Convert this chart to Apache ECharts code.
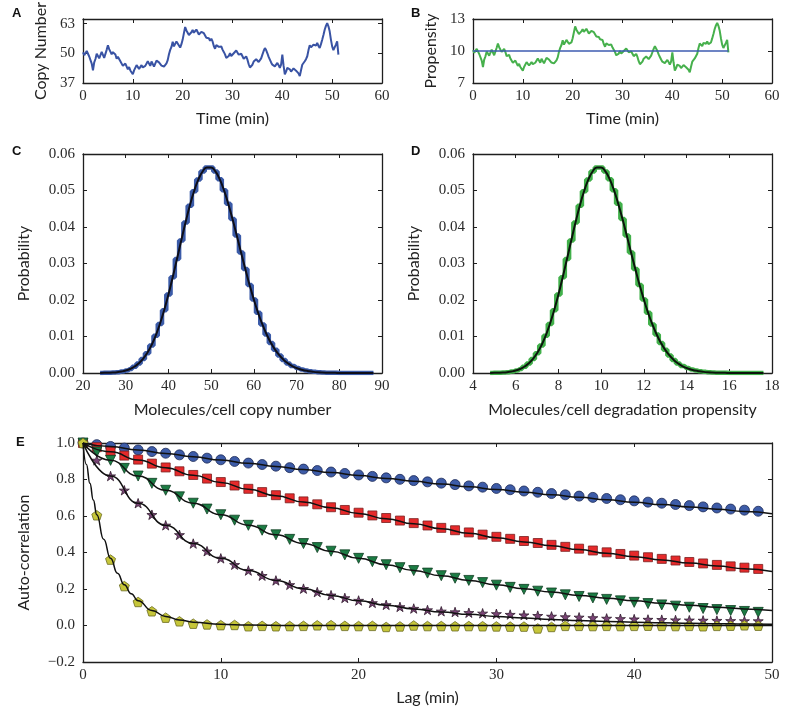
<!DOCTYPE html>
<html><head><meta charset="utf-8">
<script src="https://cdn.jsdelivr.net/npm/echarts@6/dist/echarts.min.js"></script>
<style>html,body{margin:0;padding:0;background:#fff}#c{width:791px;height:715px}</style>
</head><body><div id="c"></div>
<script>
// ---------------- DATA ----------------
// Panel A/B: single-cell trace sampled every 0.25 min
const sampleStepMin = 0.25;
const copyNumber = [
50.4,49.2,49.8,51.0,50.2,48.6,48.0,45.5,42.5,46.0,47.5,49.8,49.5,47.8,48.5,50.6,50.0,48.0,48.5,51.5,
53.5,51.8,51.5,49.6,50.5,51.0,49.5,47.6,48.5,48.2,46.5,46.8,44.5,44.0,45.5,45.0,43.0,44.0,42.5,42.0,
40.8,42.5,43.0,44.8,45.0,43.2,43.0,44.8,43.8,43.0,44.5,45.2,46.5,45.8,44.5,46.4,46.0,44.2,45.0,46.8,
47.2,46.0,45.5,44.6,43.8,44.2,45.0,45.6,47.0,49.6,51.5,52.8,55.0,53.0,53.5,55.2,54.5,53.4,52.5,54.0,
56.0,58.8,61.5,60.0,59.5,58.0,57.5,59.2,60.2,59.0,58.8,60.4,59.6,58.2,58.0,59.4,59.6,58.8,58.2,56.8,
57.4,56.6,55.5,56.4,55.2,53.2,52.0,53.6,53.8,52.8,52.5,53.0,51.6,50.6,49.5,48.0,47.2,48.8,50.0,48.8,
48.7,50.0,49.5,51.2,50.9,49.4,48.7,49.8,48.7,47.6,48.0,48.6,47.2,45.2,43.8,44.4,45.0,46.4,46.0,47.4,
47.2,46.2,46.5,47.8,49.4,51.0,52.3,51.4,50.0,48.4,47.2,46.0,45.0,45.4,44.3,44.6,45.8,44.8,43.6,45.0,
49.4,44.6,40.8,42.0,43.6,43.8,43.0,42.0,42.2,43.4,43.6,42.4,42.2,41.2,40.0,42.6,45.0,45.4,46.5,47.4,
48.7,51.4,53.5,52.6,52.3,53.8,53.0,53.4,54.5,53.2,52.3,54.0,55.9,58.0,60.3,62.0,63.2,61.8,59.6,56.0,
53.0,51.4,51.6,53.8,55.2,49.4];
const propensity = [
10.08,9.84,9.96,10.20,10.04,9.72,9.60,9.10,8.50,9.20,9.50,9.96,9.90,9.56,9.70,10.12,10.00,9.60,9.70,10.30,
10.70,10.36,10.30,9.92,10.10,10.20,9.90,9.52,9.70,9.64,9.30,9.36,8.90,8.80,9.10,9.00,8.60,8.80,8.50,8.40,
8.16,8.50,8.60,8.96,9.00,8.64,8.60,8.96,8.76,8.60,8.90,9.04,9.30,9.16,8.90,9.28,9.20,8.84,9.00,9.36,
9.44,9.20,9.10,8.92,8.76,8.84,9.00,9.12,9.40,9.92,10.30,10.56,11.00,10.60,10.70,11.04,10.90,10.68,10.50,10.80,
11.20,11.76,12.30,12.00,11.90,11.60,11.50,11.84,12.04,11.80,11.76,12.08,11.92,11.64,11.60,11.88,11.92,11.76,11.64,11.36,
11.48,11.32,11.10,11.28,11.04,10.64,10.40,10.72,10.76,10.56,10.50,10.60,10.32,10.12,9.90,9.60,9.44,9.76,10.00,9.76,
9.74,10.00,9.90,10.24,10.18,9.88,9.74,9.96,9.74,9.52,9.60,9.72,9.44,9.04,8.76,8.88,9.00,9.28,9.20,9.48,
9.44,9.24,9.30,9.56,9.88,10.20,10.46,10.28,10.00,9.68,9.44,9.20,9.00,9.08,8.86,8.92,9.16,8.96,8.72,9.00,
9.88,8.92,8.16,8.40,8.72,8.76,8.60,8.40,8.44,8.68,8.72,8.48,8.44,8.24,8.00,8.52,9.00,9.08,9.30,9.48,
9.74,10.28,10.70,10.52,10.46,10.76,10.60,10.68,10.90,10.64,10.46,10.80,11.18,11.60,12.06,12.40,12.64,12.36,11.92,11.20,
10.60,10.28,10.32,10.76,11.04,9.88];
const meanPropensity = 10;
const copyTicks = [37, 50, 63];
const propTicks = [7, 10, 13];

// Panels C/D: probability per copy number 24..88 (degradation propensity = bins 4.8..17.6)
const copyBinStart = 24, copyBinStep = 1;
const propBinStart = 4.8, propBinStep = 0.2;
const probability = [
0.0000185,0.0000371,0.0000713,0.000132,0.000236,0.000406,0.000677,0.001092,0.001707,0.002586,
0.003803,0.005433,0.007545,0.010196,0.013416,0.017200,0.021500,0.026219,0.031213,0.036294,
0.041243,0.045826,0.049811,0.052991,0.055199,0.056325,0.056325,0.055221,0.053097,0.050092,
0.046381,0.042165,0.037647,0.033024,0.028469,0.024126,0.020105,0.016480,0.013290,0.010548,
0.008240,0.006339,0.004802,0.003584,0.002635,0.001910,0.001364,0.000961,0.000667,0.000457,
0.000309,0.000206,0.000135,0.000088,0.000056,0.000036,0.000022,0.000014,0.000008,0.000005,
0.000003,0.000002,0.000001,0.000001,0.0000004];

// Panel E: auto-correlation at lags 0..49 (markers) and fitted curves
const markerLags = [0,1,2,3,4,5,6,7,8,9,10,11,12,13,14,15,16,17,18,19,20,21,22,23,24,25,26,27,28,29,30,31,32,33,34,35,36,37,38,39,40,41,42,43,44,45,46,47,48,49];
const acBlue = [1.000,.991,.981,.972,.962,.953,.944,.935,.926,.917,.908,.899,.890,.882,.873,.865,.857,.849,.841,.833,.825,.817,.809,.801,.794,.787,.780,.772,.765,.758,.751,.744,.737,.730,.723,.716,.709,.702,.696,.689,.683,.676,.670,.663,.657,.650,.644,.638,.632,.626];
const acRed = [1.000,.977,.953,.931,.909,.887,.866,.845,.825,.805,.786,.767,.749,.731,.714,.697,.680,.664,.648,.633,.618,.603,.589,.575,.561,.548,.535,.522,.510,.498,.486,.475,.463,.452,.442,.431,.421,.411,.401,.392,.383,.374,.365,.356,.348,.340,.332,.324,.317,.310];
const acGreen = [1,.951,.905,.861,.819,.779,.741,.705,.670,.638,.607,.577,.549,.522,.497,.472,.449,.427,.407,.387,.368,.350,.333,.317,.301,.287,.273,.259,.247,.235,.221,.209,.198,.188,.178,.168,.159,.151,.143,.135,.127,.120,.113,.106,.100,.093,.087,.082,.077,.072];
const acPurple = [1,.905,.819,.741,.670,.607,.549,.497,.449,.407,.368,.333,.301,.273,.247,.223,.202,.183,.166,.151,.137,.124,.113,.102,.093,.085,.078,.074,.070,.067,.064,.060,.057,.054,.050,.047,.045,.042,.039,.037,.035,.033,.032,.030,.029,.028,.027,.026,.025,.025];
const acYellow = [1,.604,.361,.216,.129,.078,.043,.023,.010,.006,.002,.003,-.004,-.002,-.004,-.003,-.002,.001,.002,-.002,-.003,-.002,-.008,-.005,.000,-.003,-.003,-.004,-.003,-.004,-.005,-.006,-.006,-.016,-.008,-.002,-.002,-.003,-.002,-.003,-.002,-.001,-.002,-.003,-.002,-.004,-.002,-.001,.001,-.001];
const fitLags = [0,2,4,6,8,10,12,14,16,18,20,22,24,26,28,30,32,34,36,38,40,42,44,46,48,50];
const fitBlue = [1,.9806,.9616,.9429,.9246,.9066,.8890,.8718,.8548,.8382,.8220,.8060,.7904,.7750,.7600,.7452,.7308,.7165,.7026,.6890,.6756,.6625,.6496,.6370,.6247,.6125];
const fitRed = [1,.952,.907,.864,.823,.784,.746,.711,.677,.645,.614,.585,.557,.530,.505,.481,.458,.437,.416,.396,.377,.359,.342,.326,.311,.296];
const fitGreen = [1,.905,.819,.741,.670,.607,.549,.497,.449,.407,.368,.333,.301,.273,.247,.223,.202,.183,.165,.150,.135,.122,.111,.100,.091,.082];
const fitPurple = [1,.819,.670,.549,.449,.368,.301,.247,.202,.165,.135,.111,.091,.074,.061,.050,.041,.033,.027,.022,.018,.015,.012,.010,.008,.007];
const fitYellowLags = [0,.25,.5,.75,1,1.5,2,2.5,3,3.5,4,5,6,7,8,10,12,15,20,30,40,50];
const fitYellow = [1,.8825,.7788,.6873,.6065,.4724,.3679,.2865,.2231,.1738,.1353,.0821,.0498,.0302,.0183,.0067,.0025,.0006,0,0,0,0];

// ---------------- BUILD ----------------
const time = copyNumber.map((_, i) => i * sampleStepMin);
const pairs = (xs, ys) => ys.map((y, i) => [xs[i], y]);
const copyBins = probability.map((_, i) => copyBinStart + i * copyBinStep);
const propBins = probability.map((_, i) => +(propBinStart + i * propBinStep).toFixed(1));

const serif = "'Liberation Serif', 'DejaVu Serif', serif";
const sans = "Lato, 'Open Sans', sans-serif";
const frameCol = '#1e1e1e';
const labelStyle = { fontFamily: serif, fontSize: 15, color: '#2a2a2a' };
const nameStyle = { fontFamily: sans, fontSize: 16, color: '#222' };

const grids = [
  { left: 83, top: 19, width: 299, height: 64 },
  { left: 473, top: 19, width: 299, height: 64 },
  { left: 83, top: 154, width: 299, height: 219 },
  { left: 473, top: 154, width: 299, height: 219 },
  { left: 83, top: 443, width: 689, height: 219 }
];

const xAxes = [], yAxes = [];
function addX(g, min, max, interval, name, nameGap, fmt) {
  const common = { type: 'value', gridIndex: g, min, max, interval, splitLine: { show: false },
    axisLine: { show: true, onZero: false, lineStyle: { color: frameCol, width: 1.3 } },
    axisTick: { show: true, inside: true, length: 4, lineStyle: { color: frameCol, width: 1 } } };
  xAxes.push(Object.assign({}, common, { position: 'bottom', name, nameLocation: 'middle', nameGap,
    nameTextStyle: nameStyle,
    axisLabel: Object.assign({ margin: 6, formatter: fmt }, labelStyle) }));
  xAxes.push(Object.assign({}, common, { position: 'top', axisLabel: { show: false } }));
}
function addY(g, min, max, interval, name, nameGap, fmt, custom) {
  const tick = { show: true, inside: true, length: 4, lineStyle: { color: frameCol, width: 1 } };
  const lab = Object.assign({ margin: 8, formatter: fmt }, labelStyle);
  if (custom) { tick.customValues = custom; lab.customValues = custom; }
  const common = { type: 'value', gridIndex: g, min, max, splitLine: { show: false },
    axisLine: { show: true, onZero: false, lineStyle: { color: frameCol, width: 1.3 } },
    axisTick: tick };
  if (interval != null) common.interval = interval;
  yAxes.push(Object.assign({}, common, { position: 'left', name, nameLocation: 'middle', nameGap,
    nameTextStyle: nameStyle, axisLabel: lab }));
  yAxes.push(Object.assign({}, common, { position: 'right', axisLabel: { show: false } }));
}
const intFmt = v => String(Math.round(v));
const f2 = v => v.toFixed(2);
const f1 = v => (v < -1e-9 ? '\u2212' : '') + Math.abs(v).toFixed(1);

addX(0, 0, 60, 10, 'Time (min)', 28, intFmt);
addY(0, 37, 65, null, 'Copy Number', 34, intFmt, copyTicks);
addX(1, 0, 60, 10, 'Time (min)', 28, intFmt);
addY(1, 7, 13, null, 'Propensity', 34, intFmt, propTicks);
addX(2, 20, 90, 10, 'Molecules/cell copy number', 29, intFmt);
addY(2, 0, 0.06, 0.01, 'Probability', 51, f2);
addX(3, 4, 18, 2, 'Molecules/cell degradation propensity', 29, intFmt);
addY(3, 0, 0.06, 0.01, 'Probability', 51, f2);
addX(4, 0, 50, 10, 'Lag (min)', 28, intFmt);
addY(4, -0.2, 1.0, 0.2, 'Auto-correlation', 51, f1);

const blueTrace = '#3953a4', greenTrace = '#46b04c';
const series = [];
function line(xi, yi, data, color, width, extra) {
  return Object.assign({ type: 'line', xAxisIndex: xi, yAxisIndex: yi, data, showSymbol: false, symbol: 'none',
    lineStyle: { color, width }, itemStyle: { color }, animation: false, silent: true }, extra || {});
}
series.push(line(0, 0, pairs(time, copyNumber), blueTrace, 2));
series.push(line(2, 2, pairs(time, propensity), greenTrace, 2));
series.push(line(2, 2, [[time[0], meanPropensity], [time[time.length - 1], meanPropensity]], '#3c5bb0', 1.4, { z: 3 }));
series.push(line(4, 4, pairs(copyBins, probability), '#3b5ba8', 4.5, { step: 'middle' }));
series.push(line(4, 4, pairs(copyBins, probability), '#0e0e18', 2, { smooth: true, z: 3 }));
series.push(line(6, 6, pairs(propBins, probability), '#41b04a', 4.5, { step: 'middle' }));
series.push(line(6, 6, pairs(propBins, probability), '#0c140c', 2, { smooth: true, z: 3 }));

const starPath = 'path://M100 0 L122.45 69.1 L195.1 69.1 L136.3 111.8 L158.8 180.9 L100 138.2 L41.2 180.9 L63.7 111.8 L4.9 69.1 L77.55 69.1 Z';
const pentPath = 'path://M100 0 L195.1 69.1 L158.8 180.9 L41.2 180.9 L4.9 69.1 Z';
function scat(ys, symbol, size, color, border, extra) {
  return Object.assign({ type: 'scatter', xAxisIndex: 8, yAxisIndex: 8, data: pairs(markerLags, ys),
    symbol, symbolSize: size, symbolKeepAspect: true,
    itemStyle: { color, borderColor: border, borderWidth: 0.8, opacity: 1 }, animation: false, silent: true }, extra || {});
}
series.push(scat(acBlue, 'circle', 10, '#3d5ca8', '#1d2a55'));
series.push(scat(acRed, 'rect', 9, '#e62a2b', '#7a2020'));
series.push(scat(acGreen, 'triangle', 10, '#1c7c44', '#0f3d22', { symbolRotate: 180 }));
series.push(scat(acPurple, starPath, 10, '#7a4476', '#2e1a2c'));
series.push(scat(acYellow, pentPath, 10, '#c6c63a', '#6a6a20'));
const fitCol = '#111';
series.push(line(8, 8, pairs(fitLags, fitBlue), fitCol, 1.5, { smooth: true, smoothMonotone: 'x', z: 5 }));
series.push(line(8, 8, pairs(fitLags, fitRed), fitCol, 1.5, { smooth: true, smoothMonotone: 'x', z: 5 }));
series.push(line(8, 8, pairs(fitLags, fitGreen), fitCol, 1.5, { smooth: true, smoothMonotone: 'x', z: 5 }));
series.push(line(8, 8, pairs(fitLags, fitPurple), fitCol, 1.5, { smooth: true, smoothMonotone: 'x', z: 5 }));
series.push(line(8, 8, pairs(fitYellowLags, fitYellow), fitCol, 1.5, { smooth: true, smoothMonotone: 'x', z: 5 }));

const letterFont = "bold 13px 'Liberation Sans', Arial, sans-serif";
const letters = [['A', 12, 7], ['B', 411, 7], ['C', 12, 145], ['D', 411, 145], ['E', 16, 436]];
const graphic = letters.map(([t, x, y]) => ({ type: 'text', left: x, top: y, style: { text: t, font: letterFont, fill: '#111' } }));

const chart = echarts.init(document.getElementById('c'), null, { renderer: 'canvas' });
chart.setOption({
  animation: false,
  backgroundColor: '#fff',
  grid: grids.map(g => Object.assign({ containLabel: false, outerBoundsMode: 'none' }, g)),
  xAxis: xAxes,
  yAxis: yAxes,
  series,
  graphic
});
</script></body></html>
